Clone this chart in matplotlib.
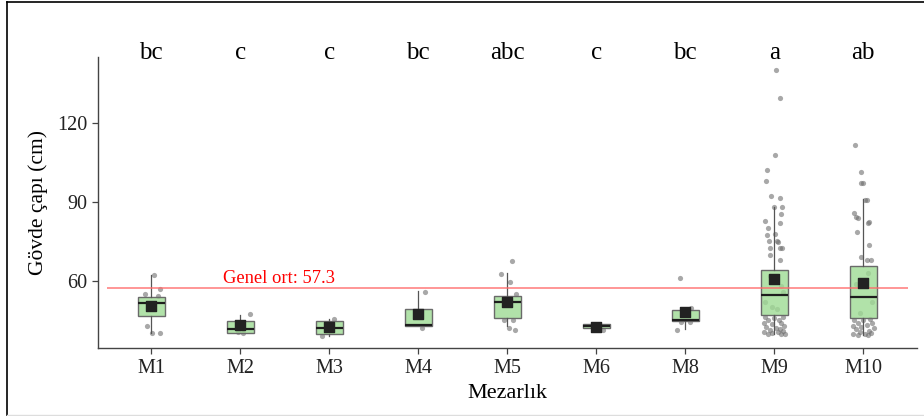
import matplotlib
matplotlib.use("Agg")
import matplotlib.pyplot as plt
from matplotlib.lines import Line2D

plt.rcParams["font.family"] = ["Liberation Serif", "DejaVu Serif"]

# Cemetery groups and significance letters
groups = ["M1", "M2", "M3", "M4", "M5", "M6", "M8", "M9", "M10"]
letters = ["bc", "c", "c", "bc", "abc", "c", "bc", "a", "ab"]
overall_mean = 57.3

# Box summaries (cm)
q1 = [46.8, 40.4, 39.8, 43.0, 45.8, 42.3, 44.9, 47.0, 45.8]
median = [51.8, 41.8, 42.3, 43.4, 51.9, 42.9, 45.2, 54.8, 53.9]
q3 = [53.9, 44.8, 44.8, 49.4, 54.3, 43.6, 48.9, 64.1, 65.8]
whis_lo = [40.4, 40.4, 39.1, 43.0, 42.9, 42.3, 41.8, 39.9, 39.3]
whis_hi = [62.3, 47.1, 45.5, 56.2, 62.9, 43.6, 49.9, 88.0, 91.1]
means = [50.6, 43.2, 42.4, 47.4, 52.1, 42.6, 48.2, 60.9, 59.1]

# Individual trees: (jitter offset, diameter)
pts_m1 = [(0.03, 62.3), (0.10, 57.0), (-0.07, 55.2), (0.08, 54.3), (-0.05, 43.0), (0.01, 40.4), (0.10, 40.1)]
pts_m2 = [(0.11, 47.4), (0.03, 40.1), (-0.03, 40.5)]
pts_m3 = [(0.05, 45.5), (-0.08, 39.1)]
pts_m4 = [(0.07, 55.7), (0.04, 42.3)]
pts_m5 = [(0.05, 67.6), (-0.07, 62.7), (0.03, 59.5), (0.10, 54.9), (-0.04, 45.2),
          (0.06, 45.2), (0.02, 42.3), (0.09, 41.5)]
pts_m6 = [(0.08, 41.3)]
pts_m8 = [(-0.06, 61.3), (0.07, 49.9), (-0.09, 41.3), (-0.05, 44.4), (0.05, 44.4)]
pts_m9 = [(0.02, 140.0), (0.06, 129.5), (0.01, 107.7), (-0.08, 102.2), (-0.09, 98.0),
          (-0.04, 92.4), (0.07, 91.4), (0.09, 88.2), (0.0, 88.0), (0.08, 85.3),
          (-0.10, 82.8), (0.06, 81.9), (-0.07, 80.0), (0.01, 77.7), (-0.08, 77.5),
          (0.03, 75.3), (-0.06, 75.2), (0.04, 74.9), (0.07, 72.6), (-0.05, 72.6),
          (0.09, 72.6), (-0.05, 69.9), (0.06, 68.0),
          (-0.05, 62.0), (0.08, 58.0), (-0.10, 52.0), (0.03, 49.5), (0.10, 56.0), (-0.02, 50.0),
          (-0.10, 46.5), (0.0, 46.0), (0.10, 46.3), (-0.07, 45.2), (0.05, 45.0),
          (-0.12, 44.0), (0.08, 44.2), (-0.03, 43.5), (0.11, 43.0), (-0.09, 42.5),
          (0.02, 42.2), (0.07, 41.8), (-0.05, 41.5), (0.10, 41.0), (-0.11, 40.8),
          (0.04, 40.5), (-0.02, 40.2), (0.12, 39.8), (0.08, 40.0), (-0.07, 39.9)]
pts_m10 = [(-0.09, 111.7), (-0.03, 101.5), (-0.03, 97.1), (0.0, 97.1), (0.02, 90.9),
           (0.04, 90.7), (-0.10, 85.7), (-0.08, 84.5), (-0.06, 83.8), (0.06, 82.3),
           (0.05, 82.0), (-0.07, 78.7), (0.07, 73.7), (-0.03, 69.2), (0.09, 67.9),
           (0.04, 67.8),
           (0.05, 63.0), (-0.08, 59.0), (0.10, 52.0), (-0.04, 48.0),
           (-0.10, 45.3), (0.0, 45.0), (0.08, 45.5), (-0.06, 44.2), (0.10, 44.0),
           (-0.12, 43.0), (0.04, 43.2), (-0.02, 42.4), (0.12, 42.0), (-0.08, 41.6),
           (0.06, 41.0), (-0.04, 40.6), (0.09, 40.3), (-0.11, 40.0), (0.02, 39.8),
           (-0.06, 39.3), (0.05, 39.5)]
points = [pts_m1, pts_m2, pts_m3, pts_m4, pts_m5, pts_m6, pts_m8, pts_m9, pts_m10]

fig = plt.figure(figsize=(9.24, 4.16), dpi=100)
ax = fig.add_axes([0.106, 0.1635, 0.886, 0.6995])

pos = list(range(1, len(groups) + 1))

# jittered points underneath the boxes
for p, pts in zip(pos, points):
    xs = [p + d for d, _ in pts]
    ys = [v for _, v in pts]
    ax.scatter(xs, ys, s=14, color="#6e6e6e", alpha=0.6, linewidths=0, zorder=2)

stats = []
for i in range(len(groups)):
    stats.append({"q1": q1[i], "med": median[i], "q3": q3[i],
                  "whislo": whis_lo[i], "whishi": whis_hi[i], "fliers": []})

ax.bxp(stats, positions=pos, widths=0.3, patch_artist=True, showcaps=False,
       boxprops=dict(facecolor=(0.62, 0.86, 0.58, 0.8), edgecolor="#6a6a6a", linewidth=1.0),
       medianprops=dict(color="#1e1e1e", linewidth=1.6),
       whiskerprops=dict(color="#555555", linewidth=0.9),
       manage_ticks=False, zorder=3)

ax.scatter(pos, means, marker="s", s=60, color="#222222", zorder=5)

# overall mean line
ax.hlines(overall_mean, 0.5, 9.5, color="#ff6b6b", linewidth=1.1, alpha=0.9, zorder=4)
ax.text(2.43, overall_mean + 0.3, f"Genel ort: {overall_mean}", color="red",
        fontsize=13.3, ha="center", va="bottom", zorder=6)

# significance letters above the panel
for p, lab in zip(pos, letters):
    ax.text(p, 146.6, lab, ha="center", va="center", fontsize=18, clip_on=False)

ax.set_xlim(0.4, 9.6)
ax.set_ylim(34.55, 145.1)
ax.set_xticks(pos)
ax.set_xticklabels(groups)
ax.set_yticks([60, 90, 120])
ax.tick_params(axis="both", labelsize=14.5, color="#444444", length=4, width=0.9,
               labelcolor="#222222")
ax.tick_params(axis="x", pad=4)

for side in ["top", "right"]:
    ax.spines[side].set_visible(False)
for side in ["left", "bottom"]:
    ax.spines[side].set_color("#444444")
    ax.spines[side].set_linewidth(1.0)

ax.set_xlabel("Mezarlık", fontsize=16, labelpad=4)
ax.set_ylabel("Gövde çapı (cm)", fontsize=15.5, labelpad=7)

# screenshot frame
fig.add_artist(Line2D([0.0076, 0.0076], [0.0, 0.995], transform=fig.transFigure,
                      color="black", linewidth=1.2))
fig.add_artist(Line2D([0.0076, 1.0], [0.995, 0.995], transform=fig.transFigure,
                      color="black", linewidth=1.2))
fig.add_artist(Line2D([0.0076, 1.0], [0.002, 0.002], transform=fig.transFigure,
                      color="#dddddd", linewidth=1.0))

fig.savefig("out.png", dpi=100)
